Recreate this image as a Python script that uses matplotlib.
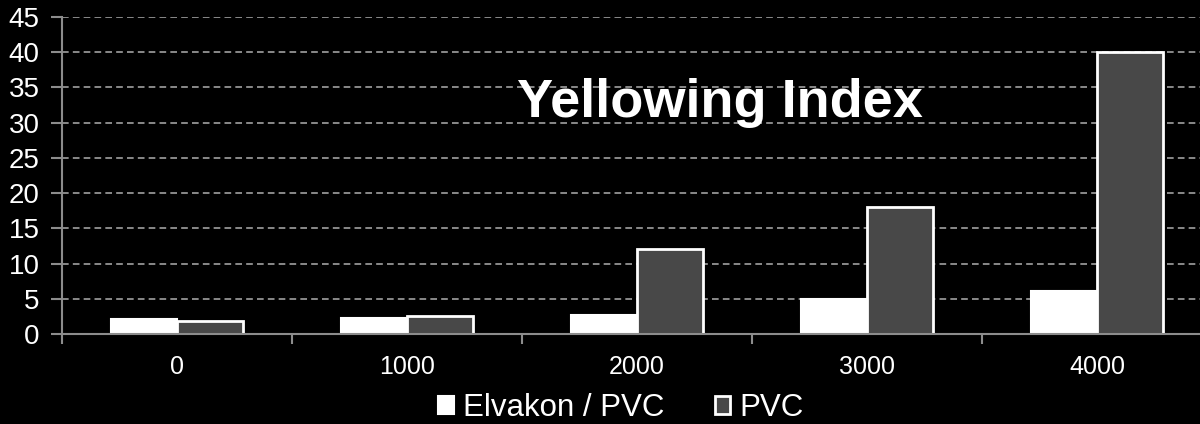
import numpy as np
import matplotlib
matplotlib.use("Agg")
import matplotlib.pyplot as plt

hours = ["0", "1000", "2000", "3000", "4000"]
elvakon_pvc = [2.1, 2.3, 2.7, 5.0, 6.1]
pvc = [1.8, 2.5, 12.0, 18.0, 40.0]
y_ticks = [0, 5, 10, 15, 20, 25, 30, 35, 40, 45]

plt.rcParams['font.family'] = ['Liberation Sans', 'DejaVu Sans']

fig = plt.figure(figsize=(12, 4.24), dpi=100, facecolor='black')
ax = fig.add_axes([62 / 1200, 90 / 424, 1150 / 1200, 317 / 424])
ax.set_facecolor('black')

x = np.arange(len(hours))
w = 0.287
ax.bar(x - w / 2, elvakon_pvc, w, color='white', edgecolor='white', linewidth=1.5,
       label='Elvakon / PVC', zorder=3)
ax.bar(x + w / 2, pvc, w, color='#484848', edgecolor='white', linewidth=2,
       label='PVC', zorder=3)

ax.set_xlim(-0.5, len(hours) - 0.5)
ax.set_ylim(0, 45)
ax.set_yticks(y_ticks)
ax.yaxis.grid(True, color='#a0a0a0', linestyle=(0, (4, 2.5)), linewidth=1.2, zorder=0)

# category boundaries carry the tick marks, labels sit at the centres
ax.set_xticks(np.arange(len(hours) + 1) - 0.5)
ax.set_xticklabels([])
ax.set_xticks(x, minor=True)
ax.set_xticklabels(hours, minor=True)
ax.tick_params(axis='x', which='major', length=7, width=1.5, color='#8c8c8c', direction='out')
ax.tick_params(axis='x', which='minor', length=0, pad=15, labelsize=18, labelcolor='white')
ax.tick_params(axis='y', length=8, width=1.5, color='#8c8c8c', labelsize=20, labelcolor='white', pad=8)

for s in ['top', 'right']:
    ax.spines[s].set_visible(False)
for s in ['left', 'bottom']:
    ax.spines[s].set_color('#8c8c8c')
    ax.spines[s].set_linewidth(1.5)
    ax.spines[s].set_zorder(4)

fig.text(720 / 1200, 1 - 103 / 424, 'Yellowing Index', color='white', fontsize=39,
         fontweight='bold', ha='center', va='center')

leg = fig.legend(loc='center', bbox_to_anchor=(621 / 1200, 1 - 408 / 424), ncol=2,
                 frameon=False, fontsize=22.5, labelcolor='white', handlelength=0.5,
                 handleheight=0.5, handletextpad=0.3, columnspacing=1.6)

fig.savefig('out.png', dpi=100, facecolor='black')
